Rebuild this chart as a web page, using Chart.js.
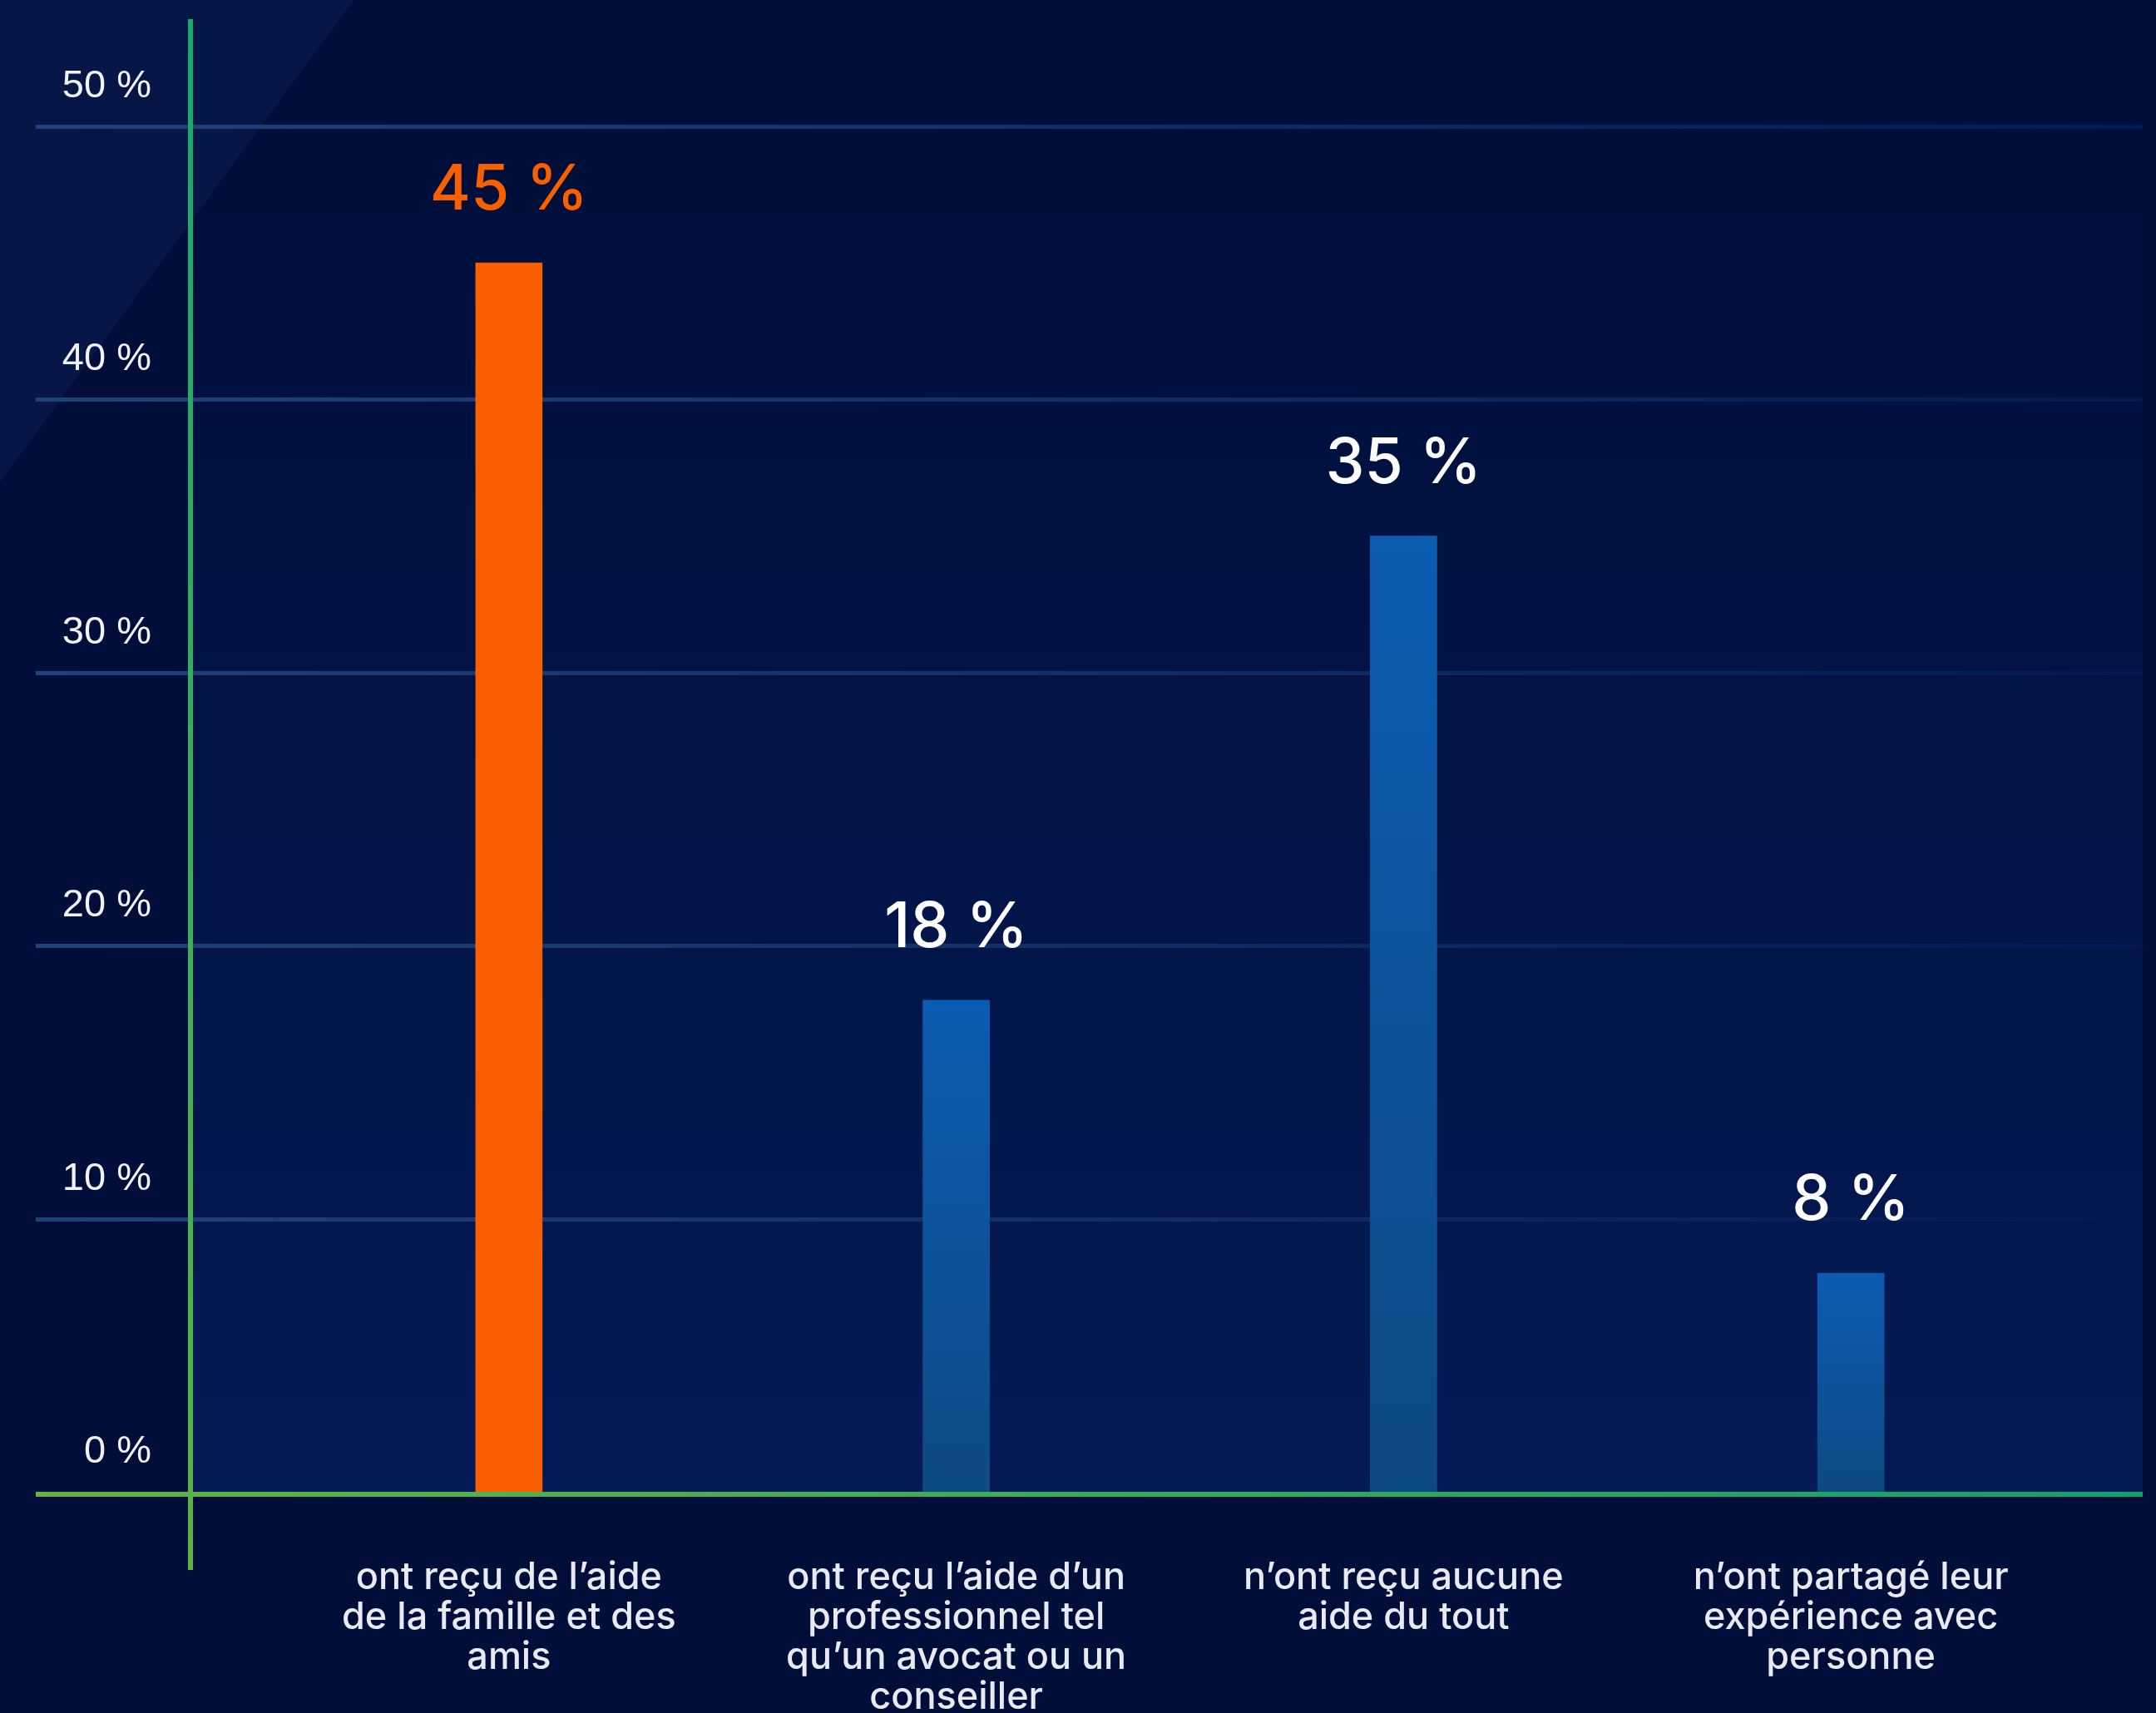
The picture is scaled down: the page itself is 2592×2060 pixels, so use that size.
<!DOCTYPE html>
<html lang="fr">
<head>
<meta charset="utf-8">
<title>Aide reçue</title>
<script src="https://cdn.jsdelivr.net/npm/chart.js@4.4.1/dist/chart.umd.min.js"></script>
<style>
    html, body { margin: 0; padding: 0; background: #000e39; }
    #wrap { width: 2592px; height: 2060px; position: relative; }
</style>
</head>
<body>
<div id="wrap"><canvas id="helpChart"></canvas></div>
<script>
// Data
const categories = [
    ['ont reçu de l\u2019aide', 'de la famille et des', 'amis'],
    ['ont reçu l\u2019aide d\u2019un', 'professionnel tel', 'qu\u2019un avocat ou un', 'conseiller'],
    ['n\u2019ont reçu aucune', 'aide du tout'],
    ['n\u2019ont partagé leur', 'expérience avec', 'personne']
];
const percentages = [45, 18, 35, 8];
const valueLabels = ['45 %', '18 %', '35 %', '8 %'];
const yTicks = [0, 10, 20, 30, 40, 50];

const NAVY = '#000e39';
const ORANGE = '#f75f00';

// Background: navy, light triangle top-left, soft glow in plot area
const backgroundPlugin = {
    id: 'background',
    beforeDraw(chart) {
        const ctx = chart.ctx;
        const y = chart.scales.y;
        ctx.save();
        ctx.fillStyle = NAVY;
        ctx.fillRect(0, 0, chart.width, chart.height);

        ctx.fillStyle = 'rgba(40, 70, 140, 0.16)';
        ctx.beginPath();
        ctx.moveTo(0, 0);
        ctx.lineTo(425, 0);
        ctx.lineTo(0, 580);
        ctx.closePath();
        ctx.fill();

        const top = y.getPixelForValue(50);
        const bottom = y.getPixelForValue(0);
        const g = ctx.createLinearGradient(0, top, 0, bottom);
        g.addColorStop(0, 'rgba(6, 30, 90, 0)');
        g.addColorStop(1, 'rgba(6, 30, 95, 0.75)');
        ctx.fillStyle = g;
        ctx.fillRect(228, top, 2576 - 228, bottom - top);
        ctx.restore();
    },
    beforeDatasetsDraw(chart) {
        // gridlines across the full width, fading to the right
        const ctx = chart.ctx;
        const y = chart.scales.y;
        ctx.save();
        const g = ctx.createLinearGradient(43, 0, 2576, 0);
        g.addColorStop(0, '#1d4479');
        g.addColorStop(0.5, '#102f66');
        g.addColorStop(1, '#011a52');
        ctx.strokeStyle = g;
        ctx.lineWidth = 5;
        y.ticks.forEach(t => {
            if (t.value === 0) return;
            const py = Math.round(y.getPixelForValue(t.value)) + 0.5;
            ctx.beginPath();
            ctx.moveTo(43, py);
            ctx.lineTo(2576, py);
            ctx.stroke();
        });
        ctx.restore();
    },
    afterDatasetsDraw(chart) {
        const ctx = chart.ctx;
        const y = chart.scales.y;
        const base = y.getPixelForValue(0);
        ctx.save();

        // y axis line
        const gy = ctx.createLinearGradient(0, 23, 0, 1888);
        gy.addColorStop(0, '#17a870');
        gy.addColorStop(1, '#5db347');
        ctx.strokeStyle = gy;
        ctx.lineWidth = 6;
        ctx.beginPath();
        ctx.moveTo(229, 23);
        ctx.lineTo(229, 1888);
        ctx.stroke();

        // x axis line
        const gx = ctx.createLinearGradient(43, 0, 2576, 0);
        gx.addColorStop(0, '#62b446');
        gx.addColorStop(1, '#12a070');
        ctx.strokeStyle = gx;
        ctx.beginPath();
        ctx.moveTo(43, base + 3);
        ctx.lineTo(2576, base + 3);
        ctx.stroke();

        // value labels above bars
        const meta = chart.getDatasetMeta(0);
        ctx.font = '500 75px Inter, "Noto Sans", sans-serif';
        ctx.textAlign = 'center';
        ctx.textBaseline = 'alphabetic';
        meta.data.forEach((bar, i) => {
            ctx.fillStyle = i === 0 ? ORANGE : '#ffffff';
            ctx.fillText(valueLabels[i], bar.x, bar.y - 64);
        });
        ctx.restore();
    }
};

function barColor(context) {
    if (context.dataIndex === 0) return ORANGE;
    const chart = context.chart;
    const y = chart.scales.y;
    if (!chart.chartArea || !y) return '#0d55a0';
    const top = y.getPixelForValue(percentages[context.dataIndex]);
    const bottom = y.getPixelForValue(0);
    const g = chart.ctx.createLinearGradient(0, top, 0, bottom);
    g.addColorStop(0, '#0c5cb3');
    g.addColorStop(1, '#0e4a82');
    return g;
}

const ctx = document.getElementById('helpChart').getContext('2d');
new Chart(ctx, {
    type: 'bar',
    data: {
        labels: categories,
        datasets: [{
            data: percentages,
            backgroundColor: barColor,
            borderWidth: 0,
            barThickness: 80
        }]
    },
    options: {
        responsive: true,
        maintainAspectRatio: false,
        animation: false,
        layout: {
            padding: { top: 152, right: 98, left: 0, bottom: 0 }
        },
        plugins: {
            legend: { display: false },
            tooltip: { enabled: false }
        },
        scales: {
            x: {
                offset: true,
                grid: { display: false },
                border: { display: false },
                afterFit(scale) { scale.height = 266; },
                ticks: {
                    color: '#e8eaf2',
                    padding: 71,
                    maxRotation: 0,
                    autoSkip: false,
                    font: { family: 'Inter, "Noto Sans", sans-serif', size: 45, weight: '500', lineHeight: 1.07 }
                }
            },
            y: {
                min: 0,
                max: 50,
                grid: { display: false, drawTicks: false },
                border: { display: false },
                afterFit(scale) {
                    scale.width = 343;
                    // the large label padding should not push the plot area down
                    scale.paddingTop = 0;
                    scale.paddingBottom = 0;
                },
                afterBuildTicks(scale) {
                    scale.ticks = yTicks.map(v => ({ value: v }));
                },
                ticks: {
                    color: '#f2f3f8',
                    padding: 161,
                    labelOffset: -48,
                    font: { family: '"Liberation Sans", Arial, sans-serif', size: 47 },
                    callback: v => v + ' %'
                }
            }
        }
    },
    plugins: [backgroundPlugin]
});
</script>
</body>
</html>
